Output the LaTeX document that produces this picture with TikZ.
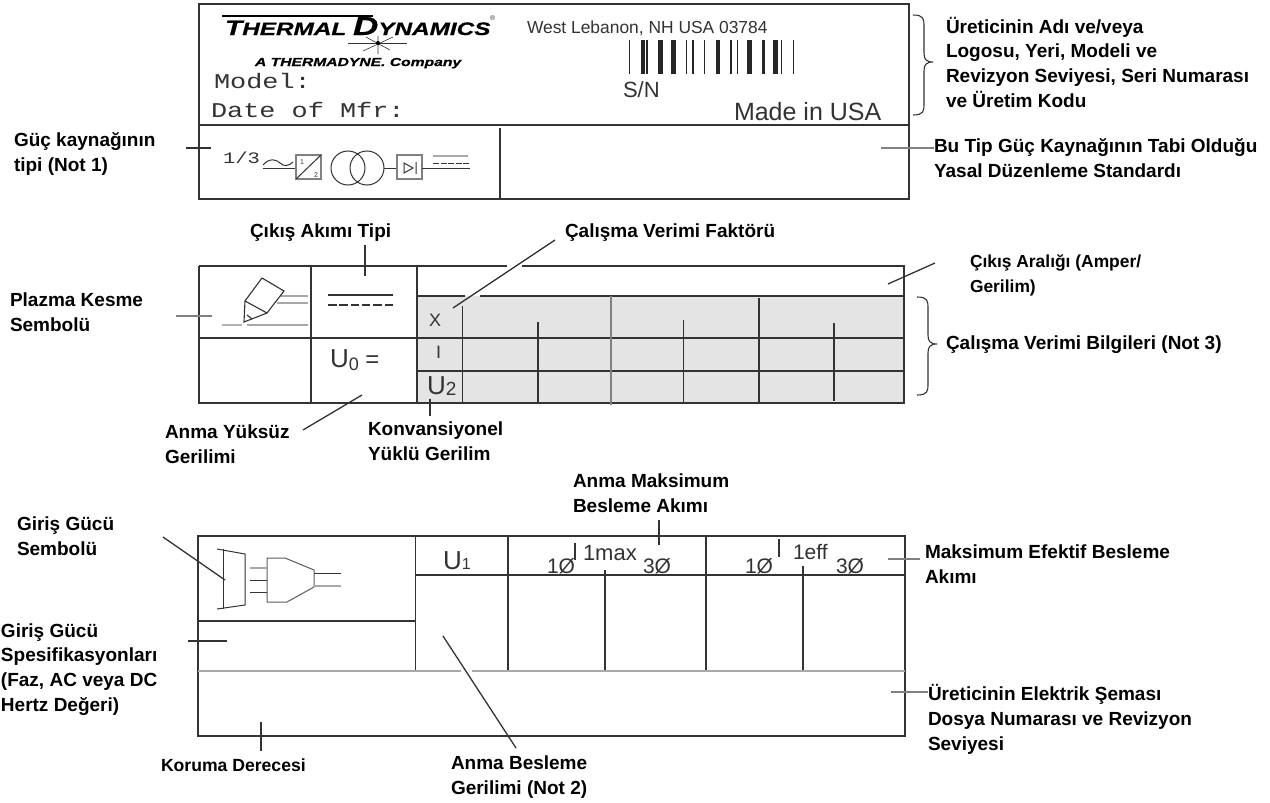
\documentclass[tikz,border=0pt]{standalone}
\usepackage{fontspec}
\setmainfont{Liberation Sans}
\newfontfamily\monof[FakeStretch=1.28]{Liberation Mono}
\newfontfamily\logof[FakeStretch=1.35,FakeBold=0.8]{Liberation Sans}
\definecolor{ink}{HTML}{333333}
\definecolor{lite}{HTML}{A8A8A8}
\definecolor{panelgray}{HTML}{E4E4E5}
\newcommand{\px}[1]{\fontsize{#1}{#1}\selectfont}
\newcommand{\mybrace}[6]{\draw[brc] (#1,#4) .. controls (#2-4,#4) and (#2-4,#4+4) .. (#2-4,#4+12) -- (#2-4,#5-9) .. controls (#2-4,#5-3) and (#2-2,#5) .. (#3,#5) .. controls (#2-2,#5) and (#2-4,#5+3) .. (#2-4,#5+9) -- (#2-4,#6-12) .. controls (#2-4,#6-4) and (#2-4,#6) .. (#1,#6);}
\tikzset{
  x=1pt,y=-1pt,
  lbl/.style={anchor=base west,inner sep=0pt,outer sep=0pt,align=left,text=black,font=\bfseries\fontsize{19}{24.6}\selectfont},
  txt/.style={anchor=base west,inner sep=0pt,outer sep=0pt,text=ink},
  gridline/.style={draw=ink,line width=1.2pt},
  symline/.style={draw=ink,line width=1pt},
  graybar/.style={draw=lite,line width=1.6pt},
  leader/.style={draw=ink,line width=1.3pt},
  leadergray/.style={draw=gray,line width=1.7pt},
  brc/.style={draw=ink,line width=1.1pt},
}
\begin{document}
\begin{tikzpicture}
\useasboundingbox[fill=white] (0,0) rectangle (1270,803);

% ---- top plate
\draw[gridline] (199,4) rectangle (909,199);
\draw[gridline] (199,125) -- (909,125);
\draw[gridline] (500,128) -- (500,199);
% logo
\fill[black] (222,14.5) -- (373,14.5) -- (373,17) -- (222,17) -- cycle;
\node[txt,text=black] (logo) at (225,35) {\logof\bfseries\itshape\px{21}T\px{18}HERMAL \px{26}D\px{18}YNAMICS};
\node[txt,text=ink] (reg) at (490,20) {\px{7}®};
\draw[line width=.5pt,ink] (348,43) -- (407,43);
\draw[line width=.6pt,ink] (363,51) -- (393,37) (366,37) -- (390,50) (378,36) -- (378,54);
\fill[black] (378,43) circle (2);
\node[txt,text=black] (thermadyne) at (255,66) {\logof\bfseries\itshape\px{11.6}A THERMADYNE. Company};
\node[txt] (model) at (214,88) {\monof\px{21}Model:};
\node[txt] (date) at (211,117) {\monof\px{21}Date of Mfr:};
\node[txt] (city) at (527,33) {\px{17.4}West Lebanon, NH USA 03784};
\foreach \bx/\bw in {629.5/1.2,643/4.6,647/1.2,660.5/4.6,673.5/4.6,686.5/1.2,693/1.2,704.5/1.2,718/4.6,731/1.2,737.5/1.2,749.5/4.6,763/3,775.5/4.8,781.5/1.2,793.5/1.2}
  \fill[black!85] (\bx-\bw/2,40) rectangle (\bx+\bw/2,74);
\node[txt] (sn) at (623,97) {\px{22}S/N};
\node[txt] (made) at (734,120) {\px{25}Made in USA};
% power source symbol
\node[txt] (frac) at (223,163) {\monof\px{16}1/3};
\draw[symline] (263,168) -- (296,168);
\draw[symline] (263,165) .. controls (270,157) and (277,160) .. (280,163) .. controls (284,167) and (289,166) .. (293,162);
\draw[symline,draw=gray,line width=1.3pt] (296,155) rectangle (321,179);
\draw[symline] (296,179) -- (321,155);
\node[txt] (s1) at (300,164) {\px{7}1};
\node[txt] (s2) at (314,177) {\px{7}2};
\draw[symline] (348,168) circle (17);
\draw[symline] (367,168) circle (17);
\draw[symline] (384,168) -- (397,168);
\draw[symline,draw=gray,line width=1.3pt] (397,155) rectangle (422,179);
\draw[symline] (404,163) -- (413,168) -- (404,173) -- cycle (416,162) -- (416,174);
\draw[symline] (422,168) -- (470,168);
\draw[symline,dash pattern=on 6pt off 1.5pt] (433,163) -- (469,163);
\draw[graybar,line width=1.2pt] (433,156) -- (468,156);
\coordinate (a1) at (186,148); \coordinate (a2) at (211,148);
\draw[leader] (a1) -- (a2);
\coordinate (b1) at (881,148); \coordinate (b2) at (934,148);
\draw[leadergray] (b1) -- (b2);
\mybrace{913}{928}{933}{15}{62}{115}
\node[lbl] (maker) at (946,107) {Üreticinin Adı ve/veya\\Logosu, Yeri, Modeli ve\\Revizyon Seviyesi, Seri Numarası\\ve Üretim Kodu};
\node[lbl] (standard) at (934,177) {Bu Tip Güç Kaynağının Tabi Olduğu\\Yasal Düzenleme Standardı};
\node[lbl] (type) at (14,171) {Güç kaynağının\\tipi (Not 1)};

% ---- middle table
\fill[panelgray] (417,296) rectangle (904,403);
\draw[gridline] (199,266) -- (507,266);
\draw[gridline] (522,266) -- (904,266) -- (904,403) -- (199,403) -- (199,266);
\draw[gridline] (417,296) -- (465,296);
\draw[gridline] (480,296) -- (904,296);
\draw[gridline] (199,338) -- (904,338);
\draw[gridline] (417,371) -- (904,371);
\draw[gridline] (311,266) -- (311,403);
\draw[gridline] (417,266) -- (417,403);
\draw[gridline] (462.5,306) -- (462.5,403);
\draw[gridline,draw=gray] (611,296) -- (611,405);
\draw[gridline] (759,298) -- (759,403);
\draw[gridline] (538,322) -- (538,402);
\draw[gridline] (683.5,320) -- (683.5,403);
\draw[gridline] (834,323) -- (834,401);
% plasma symbol
\draw[graybar] (280,296) -- (308,296) (277,303) -- (308,303);
\draw[graybar,line width=1.3pt,draw=black!30] (222,325) -- (242,325);
\draw[graybar] (247,325) -- (308,325);
\draw[symline,line width=1.1pt,fill=white] (262,278) -- (284,291) -- (267,313) -- (245,301) -- cycle;
\draw[symline,line width=1.1pt] (245,301) -- (244,322) -- (267,313);
\draw[symline,line width=1.1pt] (247,315) -- (252,319);
% current type symbol
\draw[symline,line width=1.3pt] (328,295) -- (393,295);
\draw[symline,line width=1.2pt,dash pattern=on 8.5pt off 2.8pt] (328,305) -- (393,305);
\node[txt] (xl) at (429,326) {\px{18}X};
\node[txt] (il) at (436,358) {\px{18}I};
\node[txt] (u2) at (427,394) {\px{26}U\raisebox{-1pt}{\px{19}2}};
\node[txt] (u0) at (330,367) {\px{26}U\raisebox{-3pt}{\px{18}0}\px{24} =};
\coordinate (c1) at (176,316); \coordinate (c2) at (212,316);
\draw[leadergray] (c1) -- (c2);
\coordinate (d1) at (365,245); \coordinate (d2) at (365,276);
\draw[leader] (d1) -- (d2);
\coordinate (e1) at (555,240); \coordinate (e2) at (453,308);
\draw[leader] (e1) -- (e2);
\coordinate (f1) at (935,263); \coordinate (f2) at (888,284);
\draw[leader] (f1) -- (f2);
\coordinate (g1) at (362,395); \coordinate (g2) at (303,430);
\draw[leader] (g1) -- (g2);
\coordinate (h1) at (430,399); \coordinate (h2) at (430,416);
\draw[leader] (h1) -- (h2);
\mybrace{917}{932}{937}{297}{344}{395}
\node[lbl] (plasma) at (10,331) {Plazma Kesme\\Sembolü};
\node[lbl] (outtype) at (250,237) {Çıkış Akımı Tipi};
\node[lbl] (duty) at (565,237) {Çalışma Verimi Faktörü};
\node[lbl,font=\bfseries\fontsize{17.4}{24.6}\selectfont] (range) at (970,292) {Çıkış Aralığı (Amper/\\Gerilim)};
\node[lbl] (dutyinfo) at (946,349) {Çalışma Verimi Bilgileri (Not 3)};
\node[lbl] (noload) at (165,463) {Anma Yüksüz\\Gerilimi};
\node[lbl] (loaded) at (368,460) {Konvansiyonel\\Yüklü Gerilim};

% ---- bottom table
\draw[gridline] (198,536) -- (905,536) -- (905,736) -- (198,736) -- cycle;
\draw[gridline] (198,621) -- (415.5,621);
\draw[gridline] (415.5,536) -- (415.5,671);
\draw[gridline] (415.5,575) -- (905,575);
\draw[gridline] (508,536) -- (508,671);
\draw[gridline] (706,536) -- (706,671);
\draw[gridline] (605,570) -- (605,671);
\draw[gridline] (803,566) -- (803,671);
\draw[graybar,line width=2pt] (198,671) -- (461,671) (472,671) -- (905,671);
\node[txt] (u1) at (443,569) {\px{26}U\px{16}1};
\node[txt] (ph1) at (547,573) {\px{21}1Ø};
\draw[leader,line width=1.5pt] (575,543) -- (575,560);
\node[txt] (imax) at (583,560) {\px{22}1max};
\node[txt] (ph2) at (643,573) {\px{21}3Ø};
\node[txt] (ph3) at (745,573) {\px{21}1Ø};
\draw[leader,line width=1.5pt] (779,539) -- (779,557);
\node[txt] (ieff) at (793,559) {\px{21}1eff};
\node[txt] (ph4) at (836,573) {\px{21}3Ø};
% plug symbol
\draw[symline] (217,549) -- (245,554) -- (245,605) -- (217,609);
\draw[symline] (223,549) -- (223,609);
\draw[symline,draw=ink!80] (267,558) -- (285,558) -- (314,570) -- (314,587) -- (287,602) -- (267,602) -- cycle;
\draw[graybar,line width=1.2pt] (250,568) -- (267,568);
\draw[symline] (250,580) -- (267,580) (250,592) -- (267,592);
\draw[symline] (314,573) -- (341,573);
\draw[graybar,line width=1.2pt] (314,586) -- (341,586);
\coordinate (i1) at (163,537); \coordinate (i2) at (225,580);
\draw[leader] (i1) -- (i2);
\coordinate (j1) at (188,641); \coordinate (j2) at (227,641);
\draw[leader] (j1) -- (j2);
\coordinate (k1) at (261,722); \coordinate (k2) at (261,751);
\draw[leader] (k1) -- (k2);
\coordinate (l1) at (443,636); \coordinate (l2) at (516,748);
\draw[leader] (l1) -- (l2);
\coordinate (m1) at (659,520); \coordinate (m2) at (659,545);
\draw[leader] (m1) -- (m2);
\coordinate (n1) at (888,559); \coordinate (n2) at (920,559);
\draw[leadergray] (n1) -- (n2);
\coordinate (o1) at (891,692); \coordinate (o2) at (928,692);
\draw[leadergray] (o1) -- (o2);
\node[lbl] (insym) at (17,555) {Giriş Gücü\\Sembolü};
\node[lbl] (inspec) at (1,711) {Giriş Gücü\\Spesifikasyonları\\(Faz, AC veya DC\\Hertz Değeri)};
\node[lbl,font=\bfseries\fontsize{17.6}{24.6}\selectfont] (prot) at (161,771) {Koruma Derecesi};
\node[lbl] (supply) at (451,794) {Anma Besleme\\Gerilimi (Not 2)};
\node[lbl] (maxcur) at (573,512) {Anma Maksimum\\Besleme Akımı};
\node[lbl] (effcur) at (925,583) {Maksimum Efektif Besleme\\Akımı};
\node[lbl] (schema) at (928,750) {Üreticinin Elektrik Şeması\\Dosya Numarası ve Revizyon\\Seviyesi};
\end{tikzpicture}
\end{document}
